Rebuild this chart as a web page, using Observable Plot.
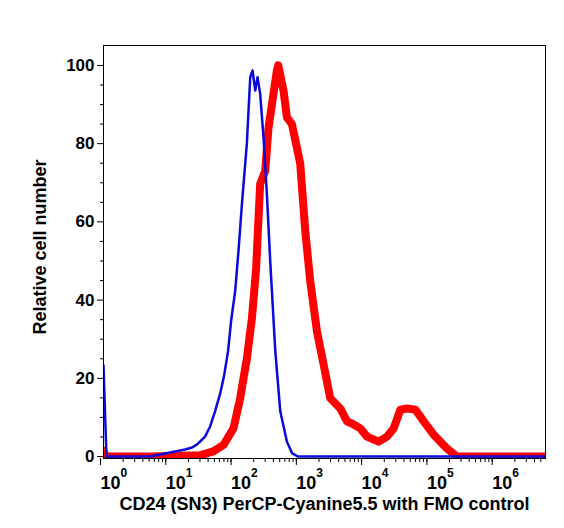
<!DOCTYPE html>
<html><head><meta charset="utf-8">
<script src="https://cdn.jsdelivr.net/npm/d3@7"></script>
<script src="https://cdn.jsdelivr.net/npm/@observablehq/plot@0.6"></script>
<style>
body{margin:0;background:#fff;}
#chart svg{font-family:"Liberation Sans",Arial,Helvetica,sans-serif;font-weight:bold;background:#fff;}
</style></head><body><div id="chart"></div>
<script>
const xMax = 5.9e6;
const fmoIntensity = [1,1.11,5.2,8.8,12.5,17.8,22.8,27.2,36,43,51,61,70,81,90,104,117,132,157,177,192,211,229,251,283,318,358,428,511,646,779,962,5.9e6];
const fmoCount = [23.3,0,0,0.8,1.3,1.8,2.3,3.1,5.1,7.7,11.5,16,20.5,27,34.6,42.3,52.6,64.6,80,97,98.7,93.6,97,92.8,81.5,67.2,50,27,11.5,3.8,0.8,0,0];
const cd24Intensity = [1,1.09,5.2,30,48,69,98,124,157,188,218,251,270,300,337,380,453,475,572,646,770,918,1032,1232,1468,1862,2350,2977,4240,5370,6780,8590,10890,16400,22070,27870,35300,44700,59900,80400,114300,183600,261000,5.9e6];
const cd24Count = [1.5,0,0,0.3,1.3,3,7.2,14.9,25,35.4,48.2,69.7,71,73,84,90,98.7,100,93.6,86.7,85,79,74.9,57.7,44.9,32,23.6,14.9,12.3,9,8.2,7.2,5.1,3.8,5.1,7.2,12,12.3,12,9,5.6,2,0,0];
const xTicks = [1,10,100,1e3,1e4,1e5,1e6];
const yTicks = [0,20,40,60,80,100];
const xTitle = "CD24 (SN3) PerCP-Cyanine5.5 with FMO control";
const yTitle = "Relative cell number";

const fmo = fmoIntensity.map((x,i)=>({x, y: fmoCount[i]}));
const cd24 = cd24Intensity.map((x,i)=>({x, y: cd24Count[i]}));
const xMinor = d3.range(0,7).flatMap(e => d3.range(2,10).map(k => k*10**e)).filter(v => v < xMax);
const yMinor = d3.range(0,105,5).filter(v => v % 20 !== 0);

const chart = Plot.plot({
  width: 564, height: 528,
  marginLeft: 103, marginRight: 19, marginTop: 45, marginBottom: 70,
  x: {type: "log", domain: [1, xMax]},
  y: {domain: [-0.5, 105.1]},
  style: {fontFamily: "Liberation Sans, Arial, sans-serif", fontWeight: "bold", color: "black"},
  marks: [
    Plot.line(cd24, {x: "x", y: "y", stroke: "#ff0000", strokeWidth: 8, strokeLinejoin: "round", clip: true}),
    Plot.line(fmo, {x: "x", y: "y", stroke: "#0a0adc", strokeWidth: 2.5, clip: true}),
    Plot.frame({stroke: "black", strokeWidth: 1}),
    Plot.axisY(yTicks, {tickSize: 6, tickPadding: 3, fontSize: 17, fontWeight: "bold", label: null}),
    Plot.axisY(yMinor, {tickSize: 3, tickFormat: () => "", label: null}),
    Plot.axisX(xTicks, {tickSize: 7, tickPadding: 11, fontSize: 18, fontWeight: "bold", textAnchor: "start", dx: -3, label: null,
      tickFormat: d => "10^" + Math.round(Math.log10(d))}),
    Plot.axisX(xMinor, {tickSize: 4, tickFormat: () => "", label: null}),
    Plot.text([xTitle], {frameAnchor: "bottom", dy: 46, fontSize: 18, fontWeight: "bold", lineAnchor: "middle"}),
    Plot.text([yTitle], {frameAnchor: "left", textAnchor: "middle", dx: -63, dy: -5, rotate: -90, fontSize: 18, fontWeight: "bold", lineAnchor: "middle"})
  ]
});
document.getElementById("chart").appendChild(chart);

const NS = "http://www.w3.org/2000/svg";
chart.querySelectorAll("text").forEach(t => {
  const m = /^10\^(\d+)$/.exec(t.textContent.trim());
  if (!m) return;
  while (t.firstChild) t.removeChild(t.firstChild);
  const base = document.createElementNS(NS, "tspan");
  base.textContent = "10";
  const sup = document.createElementNS(NS, "tspan");
  sup.setAttribute("dy", "-12");
  sup.setAttribute("font-size", "12");
  sup.textContent = m[1];
  t.appendChild(base); t.appendChild(sup);
});
</script></body></html>
